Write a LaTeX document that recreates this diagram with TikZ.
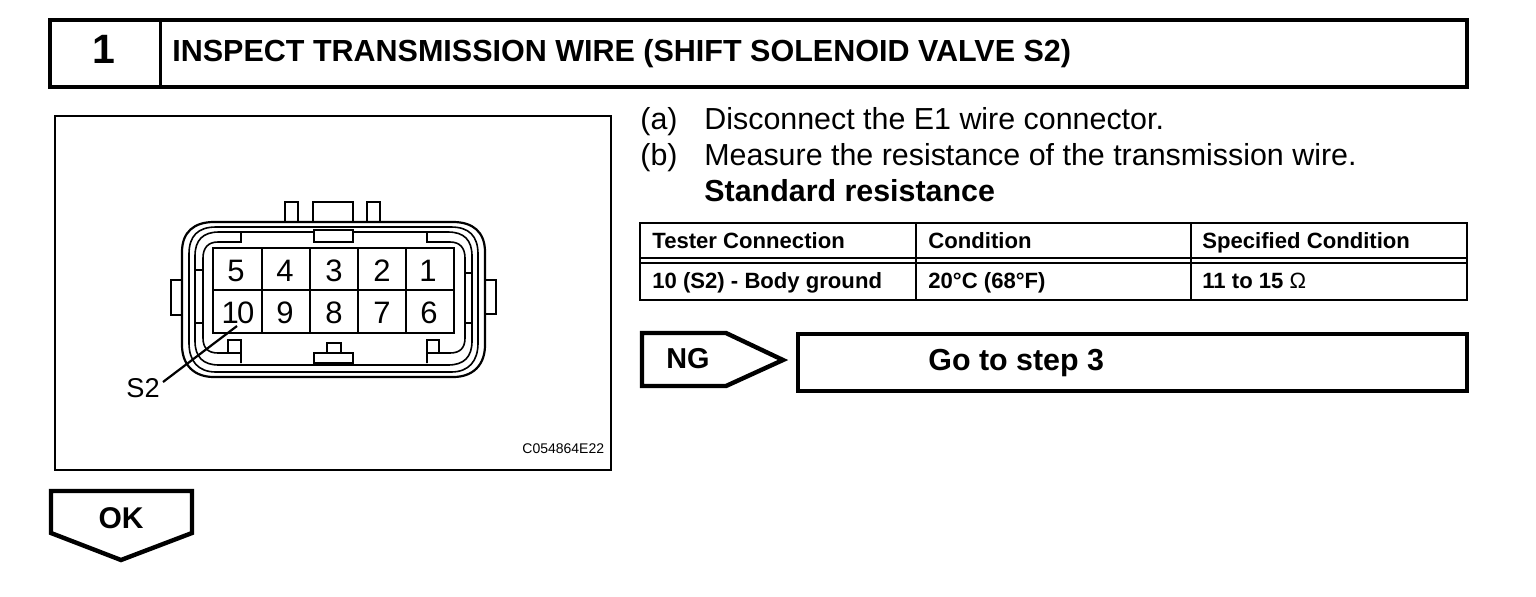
\documentclass[tikz,border=0pt]{standalone}
\usepackage{fontspec}
\setmainfont{Liberation Sans}
\tikzset{
  heavy/.style={draw=black,line width=2.2pt,fill=white},
  medium/.style={draw=black,line width=1.1pt},
  thinl/.style={draw=black,line width=0.8pt},
  lbl/.style={inner sep=0pt,anchor=base west,text=black},
  pin/.style={inner sep=0pt,anchor=center,text=black,font=\fontsize{15.5}{18}\selectfont},
  body/.style={lbl,font=\fontsize{15.2}{17}\selectfont},
  bodyb/.style={lbl,font=\bfseries\fontsize{15.2}{17}\selectfont},
  cell/.style={lbl,font=\bfseries\fontsize{11.05}{13}\selectfont},
}
\begin{document}
\begin{tikzpicture}[x=0.5pt,y=-0.5pt]
\useasboundingbox (0,0) rectangle (1536,596);
% header
\draw[heavy] (50,20) rectangle (1467,87);
\coordinate (hdt) at (160,20); \coordinate (hdb) at (160,87);
\draw[line width=1.5pt] (hdt) -- (hdb);
\node[lbl,anchor=base,font=\bfseries\fontsize{20.5}{22}\selectfont] (stepnum) at (104,63) {1};
\node[lbl,font=\bfseries\fontsize{15.25}{18}\selectfont] (title) at (172,61) {INSPECT TRANSMISSION WIRE (SHIFT SOLENOID VALVE S2)};
% figure frame
\draw[medium] (55,116) rectangle (611,470);
% connector shell
\draw[medium] (182,252) .. controls (182,232) and (194,222) .. (214,222) -- (453,222) .. controls (473,222) and (485,232) .. (485,252) -- (485,345) .. controls (485,365) and (473,377) .. (453,377) -- (214,377) .. controls (194,377) and (182,365) .. (182,345) -- cycle;
\draw[thinl] (189,254) .. controls (189,236) and (198,227) .. (216,227) -- (451,227) .. controls (469,227) and (478,236) .. (478,254) -- (478,343) .. controls (478,361) and (469,372) .. (451,372) -- (216,372) .. controls (198,372) and (189,361) .. (189,343) -- cycle;
\draw[thinl] (195,256) .. controls (195,240) and (203,232) .. (219,232) -- (448,232) .. controls (464,232) and (472,240) .. (472,256) -- (472,341) .. controls (472,357) and (464,365) .. (448,365) -- (219,365) .. controls (203,365) and (195,357) .. (195,341) -- cycle;
\draw[thinl] (203,258) .. controls (203,248) and (208,242) .. (218,242) -- (241,242) -- (241,233);
\draw[thinl] (427,233) -- (427,242) -- (450,242) .. controls (460,242) and (465,248) .. (465,258) -- (465,338) .. controls (465,348) and (460,353) .. (450,353) -- (427,353) -- (427,363);
\draw[thinl] (203,258) -- (203,338) .. controls (203,348) and (208,353) .. (218,353) -- (241,353) -- (241,363);
% top tabs
\draw[medium] (285,222) -- (285,202) -- (298,202) -- (298,222);
\draw[medium] (313,222) -- (313,202) -- (353,202) -- (353,222);
\draw[medium] (367,222) -- (367,202) -- (380,202) -- (380,222);
% side tabs
\draw[medium] (182,280) -- (171,280) -- (171,315) -- (182,315);
\draw[medium] (485,280) -- (496,280) -- (496,314) -- (485,314);
% inner keys
\draw[thinl,fill=white] (314,230) rectangle (353,242);
\draw[thinl,fill=white] (314,353) rectangle (353,363);
\draw[thinl,fill=white] (327,343) rectangle (341,353);
\draw[thinl,fill=white] (228,340) rectangle (241,353);
\draw[thinl,fill=white] (427,340) rectangle (439,353);
\draw[thinl] (195,270) -- (203,270) (195,323) -- (203,323);
\draw[thinl] (465,273) -- (472,273) (465,323) -- (472,323);
% pin grid
\draw[medium,fill=white] (213,248) rectangle (454,333);
\draw[thinl] (213,290) -- (454,290);
\foreach \px in {262,310,358,406} \draw[medium] (\px,248) -- (\px,333);
\node[pin] (p5) at (236,271) {5};
\node[pin] (p4) at (285,271) {4};
\node[pin] (p3) at (334,271) {3};
\node[pin] (p2) at (382,271) {2};
\node[pin] (p1) at (428,271) {1};
\node[pin] (p10) at (238,313) {1\kern-0.8pt 0};
\node[pin] (p9) at (285,313) {9};
\node[pin] (p8) at (334,313) {8};
\node[pin] (p7) at (382,313) {7};
\node[pin] (p6) at (429,313) {6};
\coordinate (lead) at (237,326);
\node[lbl,font=\fontsize{13.6}{15}\selectfont] (s2) at (126,397) {S2};
\coordinate (leadend) at (163,382);
\draw[medium] (lead) -- (leadend);
\node[lbl,font=\fontsize{7}{8}\selectfont] (code) at (522,453) {C054864E22};
% OK arrow
\draw[heavy] (51,491) -- (192,491) -- (192,533) -- (121,560) -- (51,533) -- cycle;
\node[pin,font=\bfseries\fontsize{15}{17}\selectfont] (ok) at (121,518) {OK};
% text
\node[body] (a) at (640,129) {(a)};
\node[body] (b) at (640,165) {(b)};
\node[body] (at) at (704,129) {Disconnect the E1 wire connector.};
\node[body] (bt) at (704,165) {Measure the resistance of the transmission wire.};
\node[bodyb] (std) at (704,201) {Standard resistance};
% table
\draw[medium] (640,223) rectangle (1467,300);
\draw[line width=1pt] (640,258) -- (1467,258) (640,263) -- (1467,263);
\draw[medium] (916,223) -- (916,300) (1191,223) -- (1191,300);
\node[cell] (c1) at (652,248) {Tester Connection};
\node[cell] (c2) at (928,248) {Condition};
\node[cell] (c3) at (1202,248) {Specified Condition};
\node[cell] (d1) at (652,288) {10 (S2) - Body ground};
\node[cell] (d2) at (928,288) {20°C (68°F)};
\node[cell] (d3) at (1202,288) {11 to 15 {\mdseries Ω}};
% NG
\draw[heavy] (642,333) -- (726,333) -- (783,360) -- (726,386) -- (642,386) -- cycle;
\node[lbl,font=\bfseries\fontsize{14.4}{17}\selectfont] (ng) at (666,368) {NG};
\draw[heavy] (798,334) rectangle (1467,391);
\node[bodyb] (go) at (928,370) {Go to step 3};
\end{tikzpicture}
\end{document}
